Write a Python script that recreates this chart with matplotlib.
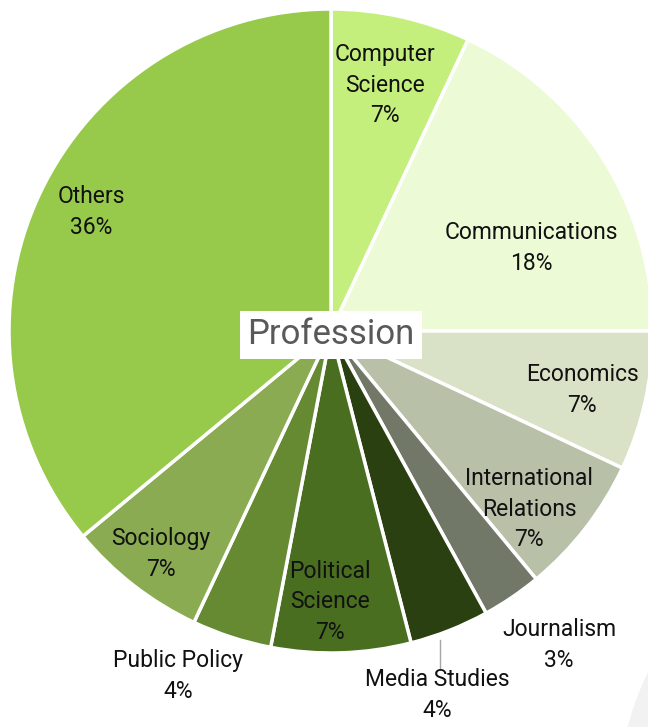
import matplotlib.pyplot as plt
from matplotlib.patches import Circle

# Datos del gráfico (sentido horario desde las 12)
categories = ["Computer\nScience", "Communications", "Economics", "International\nRelations",
              "Journalism", "Media Studies", "Political\nScience", "Public Policy",
              "Sociology", "Others"]
shares = [7, 18, 7, 7, 3, 4, 7, 4, 7, 36]
colors = ["#c5ef7d", "#ecfbd6", "#d9e2c7", "#b8c0a8", "#717868",
          "#2b4010", "#4a6e1f", "#658a32", "#8aab52", "#97c94b"]

# posiciones de las etiquetas en píxeles (desde arriba)
label_pos = [(385, 85), (531, 248), (582, 390), (529, 509), (559, 645),
             (437, 695), (330, 602), (178, 676), (161, 554), (91, 212)]

W, H = 648, 727
def fy(y):
    return H - y

fig = plt.figure(figsize=(6.48, 7.27), dpi=100)
ax = fig.add_axes([0, 0, 1, 1])

# sombra gris tenue abajo a la derecha
ax.add_patch(Circle((908, fy(800)), 289, color="#f2f2f2", zorder=0))

cx, cy, r = 331, fy(331), 322
ax.pie(shares, colors=colors, startangle=90, counterclock=False,
       center=(cx, cy), radius=r,
       wedgeprops=dict(edgecolor="white", linewidth=2.5))

for name, val, (x, y) in zip(categories, shares, label_pos):
    ax.text(x, fy(y), f"{name}\n{val}%", ha="center", va="center",
            fontsize=16.5, family=["Roboto", "DejaVu Sans"],
            color="#111111", linespacing=1.42, zorder=5)

# línea guía de Media Studies
ax.plot([440, 440], [fy(640), fy(668)], color="#a6a6a6", lw=1, zorder=4)

ax.text(cx, fy(335), "Profession", ha="center", va="center", fontsize=25,
        family=["Roboto", "DejaVu Sans"], color="#595959", zorder=6,
        bbox=dict(boxstyle="square,pad=0.22", fc="white", ec="none"))

ax.set_xlim(0, W)
ax.set_ylim(0, H)
ax.set_aspect("equal")
ax.axis("off")

fig.savefig("out.png", dpi=100)
